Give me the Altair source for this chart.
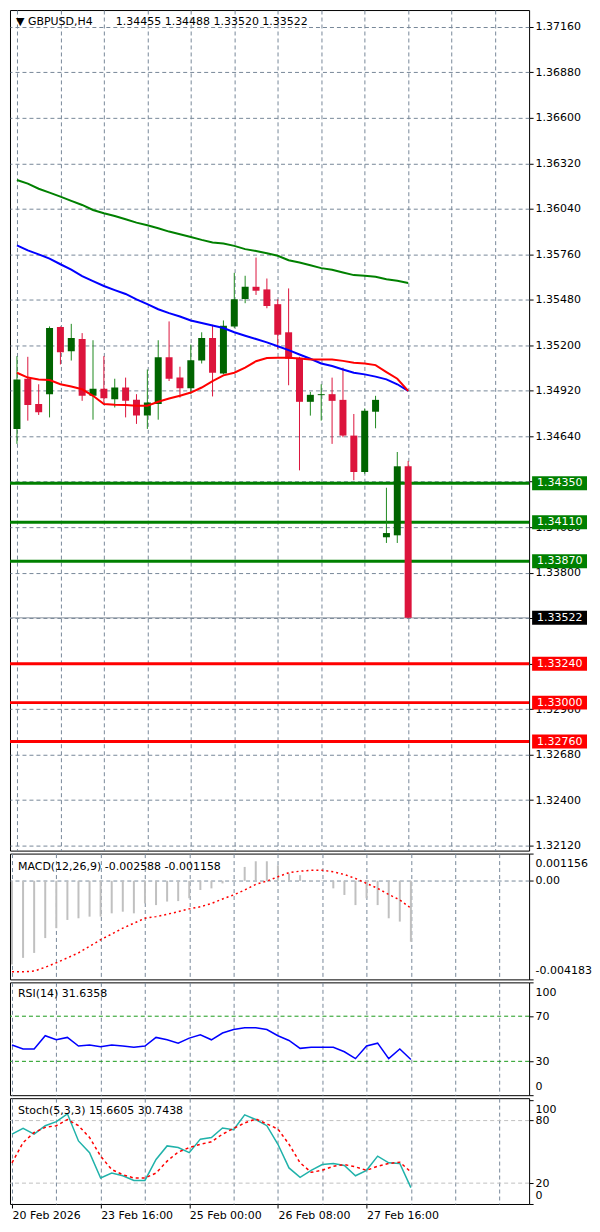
import altair as alt
import pandas as pd

# ---------------- data ----------------
bars = list(range(37))
opens = [1.34685, 1.34994, 1.34838, 1.34899, 1.35312, 1.35163, 1.35239, 1.34889, 1.34933, 1.34868,
         1.34940, 1.34864, 1.34767, 1.34838, 1.35127, 1.35001, 1.34935, 1.35106, 1.35245, 1.35027,
         1.35316, 1.35485, 1.35560, 1.35544, 1.35453, 1.35280, 1.35123, 1.34852, 1.34893, 1.34899,
         1.34864, 1.34644, 1.34420, 1.34791, 1.34018, 1.34030, 1.34455]
highs = [1.35133, 1.35129, 1.34960, 1.35316, 1.35316, 1.35332, 1.35275, 1.35231, 1.35133, 1.34994,
         1.35001, 1.34899, 1.35051, 1.35231, 1.35347, 1.35068, 1.35204, 1.35280, 1.35326, 1.35353,
         1.35646, 1.35628, 1.35740, 1.35611, 1.35483, 1.35550, 1.35129, 1.34913, 1.34960, 1.35001,
         1.35062, 1.34777, 1.34811, 1.34889, 1.34323, 1.34543, 1.34488]
lows = [1.34593, 1.34736, 1.34771, 1.34756, 1.35082, 1.35106, 1.34858, 1.34742, 1.34848, 1.34817,
        1.34756, 1.34716, 1.34685, 1.34742, 1.34980, 1.34878, 1.34899, 1.35088, 1.34885, 1.35021,
        1.35306, 1.35459, 1.35510, 1.35428, 1.35178, 1.34954, 1.34430, 1.34767, 1.34736, 1.34593,
        1.34634, 1.34369, 1.34409, 1.34689, 1.33983, 1.33983, 1.33520]
closes = [1.34990, 1.34832, 1.34787, 1.35306, 1.35157, 1.35245, 1.34889, 1.34933, 1.34874, 1.34940,
          1.34858, 1.34767, 1.34848, 1.35127, 1.34994, 1.34935, 1.35108, 1.35245, 1.35031, 1.35320,
          1.35483, 1.35560, 1.35536, 1.35442, 1.35265, 1.35117, 1.34852, 1.34895, 1.34899, 1.34858,
          1.34644, 1.34420, 1.34797, 1.34864, 1.34044, 1.34455, 1.33522]
ma_green = [1.36218, 1.36195, 1.36164, 1.36140, 1.36115, 1.36089, 1.36064, 1.36033, 1.36013, 1.35996,
            1.35976, 1.35955, 1.35939, 1.35921, 1.35900, 1.35884, 1.35867, 1.35849, 1.35833, 1.35826,
            1.35812, 1.35792, 1.35781, 1.35767, 1.35751, 1.35724, 1.35710, 1.35693, 1.35675, 1.35665,
            1.35648, 1.35632, 1.35628, 1.35622, 1.35607, 1.35597, 1.35583]
ma_blue = [1.35815, 1.35784, 1.35760, 1.35734, 1.35699, 1.35666, 1.35626, 1.35595, 1.35565, 1.35540,
           1.35516, 1.35483, 1.35453, 1.35422, 1.35398, 1.35377, 1.35353, 1.35337, 1.35322, 1.35306,
           1.35280, 1.35259, 1.35239, 1.35218, 1.35194, 1.35170, 1.35143, 1.35117, 1.35088, 1.35072,
           1.35051, 1.35031, 1.35021, 1.35007, 1.34990, 1.34960, 1.34919]
ma_red = [1.35031, 1.35001, 1.34990, 1.34986, 1.34960, 1.34946, 1.34929, 1.34889, 1.34838, 1.34834,
          1.34832, 1.34828, 1.34828, 1.34852, 1.34872, 1.34889, 1.34909, 1.34940, 1.34980, 1.35015,
          1.35031, 1.35062, 1.35102, 1.35121, 1.35123, 1.35123, 1.35119, 1.35113, 1.35113, 1.35113,
          1.35104, 1.35092, 1.35088, 1.35078, 1.35035, 1.34994, 1.34919]
macd_hist = [-0.00355, -0.00327, -0.00306, -0.00243, -0.00201, -0.00166, -0.00159, -0.00152, -0.00152, -0.00138,
             -0.00131, -0.00138, -0.00096, -0.00103, -0.00088, -0.00086, -0.00074, -0.00039, -0.00032, -0.00011,
             0.00003, 0.00059, 0.00083, 0.00083, 0.00066, 0.00031, 0.00024, -0.00004, 0.00002, -0.00032,
             -0.00060, -0.00103, -0.00074, -0.00103, -0.00159, -0.00173, -0.002588]
macd_signal = [-0.00386, -0.00386, -0.00383, -0.00367, -0.00348, -0.00327, -0.00306, -0.00278, -0.00250, -0.00226,
               -0.00201, -0.00180, -0.00159, -0.00152, -0.00142, -0.00131, -0.00119, -0.00110, -0.00096, -0.00077,
               -0.00060, -0.00039, -0.00015, -0.00001, 0.00017, 0.00035, 0.00041, 0.00045, 0.00045, 0.00038,
               0.00027, 0.00010, -0.00011, -0.00032, -0.00058, -0.00081, -0.001158]
rsi_vals = [44.5, 40.9, 40.9, 52.7, 49.1, 51.2, 43.6, 44.5, 43.0, 44.5,
            43.6, 42.4, 43.6, 51.2, 49.1, 46.1, 50.6, 53.6, 49.1, 55.1,
            58.2, 59.7, 59.7, 58.2, 52.7, 48.5, 41.5, 42.4, 42.4, 42.4,
            38.5, 32.4, 43.6, 46.1, 32.4, 40.9, 31.6358]
stoch_main = [67.0, 72.5, 67.0, 75.1, 79.0, 86.5, 60.5, 49.2, 24.9, 29.7,
              27.1, 22.6, 22.6, 42.7, 55.7, 54.1, 49.2, 62.2, 63.8, 72.9,
              71.2, 85.5, 81.0, 75.1, 57.3, 34.6, 25.5, 32.3, 37.8, 38.8,
              36.9, 27.1, 32.3, 45.9, 39.5, 38.8, 15.6605]
stoch_signal = [39.5, 58.9, 68.6, 73.5, 75.1, 81.0, 75.1, 63.8, 45.9, 33.0,
                28.1, 24.9, 24.9, 29.7, 41.1, 49.8, 54.1, 57.3, 59.6, 67.0,
                72.5, 77.7, 81.6, 76.8, 71.9, 57.3, 39.5, 30.4, 32.3, 36.2,
                37.8, 35.6, 32.3, 36.2, 38.8, 40.1, 30.7438]

price_ticks = [1.32120, 1.32400, 1.32680, 1.32960, 1.33240, 1.33520, 1.33800, 1.34080, 1.34360, 1.34640,
               1.34920, 1.35200, 1.35480, 1.35760, 1.36040, 1.36320, 1.36600, 1.36880, 1.37160]
green_levels = [1.34350, 1.34110, 1.33870]
red_levels = [1.33240, 1.33000, 1.32760]
current_price = 1.33522
grid_bars = [0, 4, 8, 12, 16, 20, 24, 28, 32, 36, 40, 44]
x_label_bars = [0, 8, 16, 24, 32]
x_label_text = ["20 Feb 2026", "23 Feb 16:00", "25 Feb 00:00", "26 Feb 08:00", "27 Feb 16:00"]
macd_axis_vals = [0.001156, 0.0, -0.004183]
macd_axis_text = ["0.001156", "0.00", "-0.004183"]
rsi_axis_vals = [100, 70, 30, 0]
rsi_levels = [70, 30]
stoch_axis_vals = [100, 80, 20, 0]
stoch_levels = [80, 20]
header_symbol = "\u25bc  GBPUSD,H4"
header_ohlc = "1.34455 1.34488 1.33520 1.33522"
macd_title = "MACD(12,26,9) -0.002588 -0.001158"
rsi_title = "RSI(14) 31.6358"
stoch_title = "Stoch(5,3,3) 15.6605 30.7438"

# ---------------- styling ----------------
FONT = "DejaVu Sans"
GRID = "#778899"
DASH = [4, 3]
W = 520
H_MAIN, H_MACD, H_RSI, H_STO = 842, 126, 113, 106
BULL_BODY, BULL_WICK, BEAR = "#006400", "#1f8a1f", "#DC143C"

df = pd.DataFrame({"bar": bars, "open": opens, "high": highs, "low": lows, "close": closes,
                   "ma_green": ma_green, "ma_blue": ma_blue, "ma_red": ma_red,
                   "hist": macd_hist, "signal": macd_signal, "rsi": rsi_vals,
                   "k": stoch_main, "d": stoch_signal})
df["body_col"] = [BULL_BODY if c >= o else BEAR for o, c in zip(opens, closes)]
df["wick_col"] = [BULL_WICK if c >= o else BEAR for o, c in zip(opens, closes)]

lv_rows = [{"price": p, "col": "#008000", "label": f"{p:.5f}"} for p in green_levels] + \
          [{"price": p, "col": "#FF0000", "label": f"{p:.5f}"} for p in red_levels]
levels_df = pd.DataFrame(lv_rows)
boxes_df = pd.DataFrame(lv_rows + [{"price": current_price, "col": "#000000", "label": f"{current_price:.5f}"}])
cur_df = pd.DataFrame({"price": [current_price]})


def ternary(vals, texts):
    expr = "''"
    for v, t in reversed(list(zip(vals, texts))):
        expr = f"datum.value == {v} ? '{t}' : ({expr})"
    return expr


xs = alt.Scale(domain=[-0.18, 46.67], nice=False, zero=False)


def x_hidden():
    return alt.X("bar:Q", scale=xs, title=None,
                 axis=alt.Axis(values=grid_bars, labels=False, ticks=False, domain=False, grid=True,
                               gridColor=GRID, gridDash=DASH, gridWidth=1))


def y_axis(values, **kw):
    base = dict(orient="right", values=values, domain=False, tickSize=4, tickColor="black",
                labelPadding=2, labelOverlap=False, title=None)
    base.update(kw)
    return alt.Axis(**base)


def text_layer(txt, x, y):
    return alt.Chart(pd.DataFrame({"t": [txt]})).mark_text(
        align="left", baseline="middle", font=FONT, fontSize=11, color="black"
    ).encode(x=alt.value(x), y=alt.value(y), text="t:N")


# ---------------- main price panel ----------------
ys = alt.Scale(domain=[1.32089, 1.37264], nice=False, zero=False)
yax = y_axis(price_ticks, format=".5f", grid=True, gridColor=GRID, gridDash=DASH, gridWidth=1)


def Y(field):
    return alt.Y(field, scale=ys, axis=yax)


base = alt.Chart(df).encode(x=x_hidden())

sr_lines = alt.Chart(levels_df).mark_rule(strokeWidth=3).encode(
    y=Y("price:Q"), color=alt.Color("col:N", scale=None))
cur_line = alt.Chart(cur_df).mark_rule(strokeWidth=1, color="#8a94a0").encode(y=Y("price:Q"))
wicks = base.mark_rule(strokeWidth=1, clip=True).encode(
    y=Y("low:Q"), y2="high:Q", color=alt.Color("wick_col:N", scale=None))
bodies = base.mark_bar(size=7, clip=True).encode(
    y=Y("open:Q"), y2="close:Q", color=alt.Color("body_col:N", scale=None))
l_green = base.mark_line(color="#008000", strokeWidth=2).encode(y=Y("ma_green:Q"))
l_blue = base.mark_line(color="#0000FF", strokeWidth=2).encode(y=Y("ma_blue:Q"))
l_red = base.mark_line(color="#FF0000", strokeWidth=2).encode(y=Y("ma_red:Q"))
boxes = alt.Chart(boxes_df).transform_calculate(
    lo="datum.price - 0.00043", hi="datum.price + 0.00043"
).mark_rect().encode(x=alt.value(W + 3), x2=alt.value(W + 58), y=Y("lo:Q"), y2="hi:Q",
                     color=alt.Color("col:N", scale=None))
box_text = alt.Chart(boxes_df).mark_text(
    align="left", baseline="middle", font=FONT, fontSize=11, color="white"
).encode(x=alt.value(W + 8), y=Y("price:Q"), text="label:N")

main = alt.layer(
    sr_lines, cur_line, wicks, bodies, l_green, l_blue, l_red, boxes, box_text,
    text_layer(header_symbol, 6, 12), text_layer(header_ohlc, 106, 12)
).properties(width=W, height=H_MAIN)

# ---------------- MACD ----------------
ys_macd = alt.Scale(domain=[-0.004183, 0.001156], nice=False, zero=False)
yax_macd = y_axis(macd_axis_vals, labelExpr=ternary(macd_axis_vals, macd_axis_text),
                  grid=True, gridColor=GRID, gridDash=DASH,
                  gridOpacity={"expr": "datum.value == 0 ? 1 : 0"},
                  labelFlush=True, labelFlushOffset=-4)
mbase = alt.Chart(df).encode(x=x_hidden())
hist = mbase.mark_rule(color="#C0C0C0", strokeWidth=2).encode(
    y=alt.Y("hist:Q", scale=ys_macd, axis=yax_macd), y2=alt.datum(0))
sig = mbase.mark_line(color="#FF0000", strokeWidth=1.5, strokeDash=[2, 3]).encode(
    y=alt.Y("signal:Q", scale=ys_macd, axis=yax_macd))
macd = alt.layer(hist, sig, text_layer(macd_title, 8, 13)).properties(width=W, height=H_MACD)

# ---------------- RSI ----------------
ys_rsi = alt.Scale(domain=[0, 100], nice=False, zero=False)
yax_rsi = y_axis(rsi_axis_vals, format="d", grid=False, labelFlush=True, labelFlushOffset=-4)
rbase = alt.Chart(df).encode(x=x_hidden())
rsi_lv = alt.Chart(pd.DataFrame({"lv": rsi_levels})).mark_rule(
    color="#1a9a1a", strokeWidth=1, strokeDash=[4, 3]).encode(
    y=alt.Y("lv:Q", scale=ys_rsi, axis=yax_rsi))
rsi_line = rbase.mark_line(color="#0000FF", strokeWidth=1.5).encode(
    y=alt.Y("rsi:Q", scale=ys_rsi, axis=yax_rsi))
rsi = alt.layer(rsi_lv, rsi_line, text_layer(rsi_title, 8, 12)).properties(width=W, height=H_RSI)

# ---------------- Stochastic ----------------
ys_sto = alt.Scale(domain=[0, 101.5], nice=False, zero=False)
yax_sto = y_axis(stoch_axis_vals, format="d", grid=False, labelFlush=3, labelFlushOffset=-4)
x_bottom = alt.X("bar:Q", scale=xs, title=None,
                 axis=alt.Axis(values=grid_bars, labelExpr=ternary(x_label_bars, x_label_text),
                               labelAlign="left", labelPadding=2, labelOverlap=False,
                               tickSize=4, tickColor="black",
                               tickOpacity={"expr": "datum.value % 8 == 0 && datum.value <= 32 ? 1 : 0"},
                               domain=False, grid=True, gridColor=GRID, gridDash=DASH, gridWidth=1))
sbase = alt.Chart(df).encode(x=x_bottom)
sto_lv = alt.Chart(pd.DataFrame({"lv": stoch_levels})).mark_rule(
    color="#C0C0C0", strokeWidth=1, strokeDash=[4, 3]).encode(
    y=alt.Y("lv:Q", scale=ys_sto, axis=yax_sto))
k_line = sbase.mark_line(color="#20B2AA", strokeWidth=1.5).encode(
    y=alt.Y("k:Q", scale=ys_sto, axis=yax_sto))
d_line = sbase.mark_line(color="#FF0000", strokeWidth=1.5, strokeDash=[3, 3]).encode(
    y=alt.Y("d:Q", scale=ys_sto, axis=yax_sto))
stoch = alt.layer(sto_lv, k_line, d_line, text_layer(stoch_title, 8, 13)).properties(width=W, height=H_STO)

chart = alt.vconcat(main, macd, rsi, stoch, spacing=3, bounds="flush").resolve_scale(
    x="independent", y="independent"
).properties(padding=0, background="white").configure_view(
    stroke="black", strokeWidth=1
).configure_axis(labelFont=FONT, labelFontSize=11, labelColor="black")

chart.save("out.html", embed_options={"renderer": "svg", "actions": False})
